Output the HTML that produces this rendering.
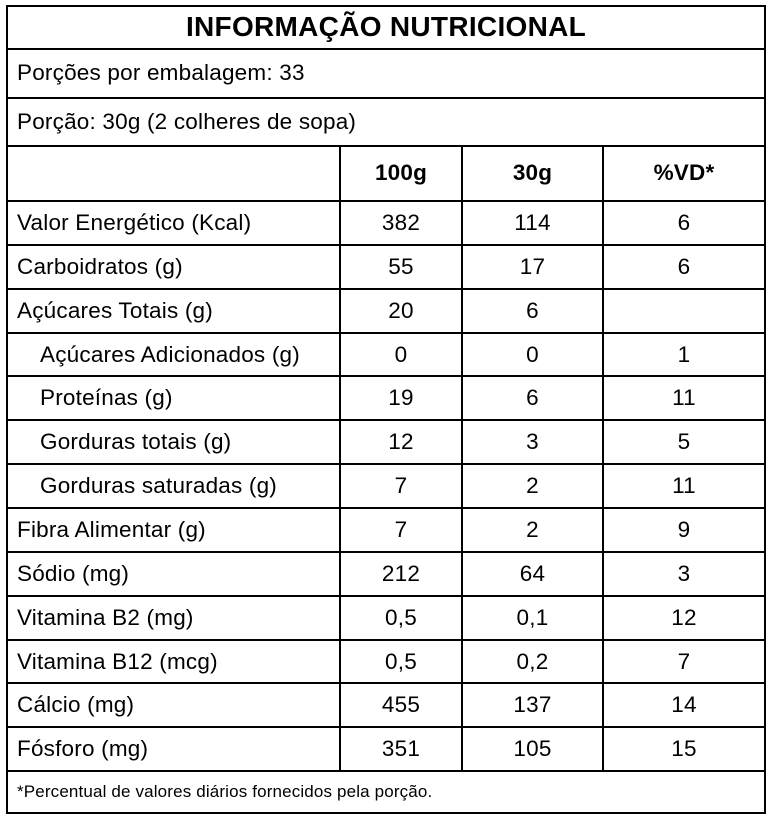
<!DOCTYPE html>
<html><head><meta charset="utf-8"><style>
body{margin:0;width:769px;height:818px;background:#fff;position:relative;overflow:hidden;font-family:"Liberation Sans",Arial,sans-serif;color:#000}
.h{position:absolute;left:6px;width:760px;height:2px;background:#000}
.v{position:absolute;width:2px;background:#000}
.t{position:absolute;font-size:22.5px;letter-spacing:0.2px;line-height:24px;white-space:nowrap}
.c{position:absolute;font-size:22.5px;letter-spacing:0.2px;line-height:24px;text-align:center;white-space:nowrap}
</style></head><body>
<div class="h" style="top:5px"></div>
<div class="h" style="top:48px"></div>
<div class="h" style="top:97px"></div>
<div class="h" style="top:145px"></div>
<div class="h" style="top:812px"></div>
<div class="v" style="left:6px;top:5px;height:809px"></div>
<div class="v" style="left:764px;top:5px;height:809px"></div>
<div class="v" style="left:339px;top:145px;height:626px"></div>
<div class="v" style="left:461px;top:145px;height:626px"></div>
<div class="v" style="left:602px;top:145px;height:626px"></div>
<div class="c" style="left:6px;width:760px;top:12px;font-size:28px;letter-spacing:0.3px;line-height:30px;font-weight:bold">INFORMAÇÃO NUTRICIONAL</div>
<div class="t" style="left:17px;top:61px">Porções por embalagem: 33</div>
<div class="t" style="left:17px;top:110px">Porção: 30g (2 colheres de sopa)</div>
<div class="c" style="left:340px;width:122px;top:161px;font-weight:bold">100g</div>
<div class="c" style="left:462px;width:141px;top:161px;font-weight:bold">30g</div>
<div class="c" style="left:603px;width:162px;top:161px;font-weight:bold">%VD*</div>
<div id="rows"></div>
<script>
var d=[["Valor Energético (Kcal)","382","114","6",0],["Carboidratos (g)","55","17","6",0],["Açúcares Totais (g)","20","6","",0],["Açúcares Adicionados (g)","0","0","1",1],["Proteínas (g)","19","6","11",1],["Gorduras totais (g)","12","3","5",1],["Gorduras saturadas (g)","7","2","11",1],["Fibra Alimentar (g)","7","2","9",0],["Sódio (mg)","212","64","3",0],["Vitamina B2 (mg)","0,5","0,1","12",0],["Vitamina B12 (mcg)","0,5","0,2","7",0],["Cálcio (mg)","455","137","14",0],["Fósforo (mg)","351","105","15",0]];
var h="";for(var i=0;i<=13;i++){var y=Math.round(200+i*43.85);h+='<div class="h" style="top:'+y+'px"></div>';}
d.forEach(function(r,i){var y=Math.round(200+i*43.85+11);
h+='<div class="t" style="left:'+(r[4]?40:17)+'px;top:'+y+'px">'+r[0]+'</div>';
h+='<div class="c" style="left:340px;width:122px;top:'+y+'px">'+r[1]+'</div>';
h+='<div class="c" style="left:462px;width:141px;top:'+y+'px">'+r[2]+'</div>';
h+='<div class="c" style="left:603px;width:162px;top:'+y+'px">'+r[3]+'</div>';});
h+='<div class="t" style="left:17px;top:783px;font-size:17px;letter-spacing:0.15px;line-height:18px">*Percentual de valores diários fornecidos pela porção.</div>';
document.getElementById("rows").innerHTML=h;
</script>
</body></html>
